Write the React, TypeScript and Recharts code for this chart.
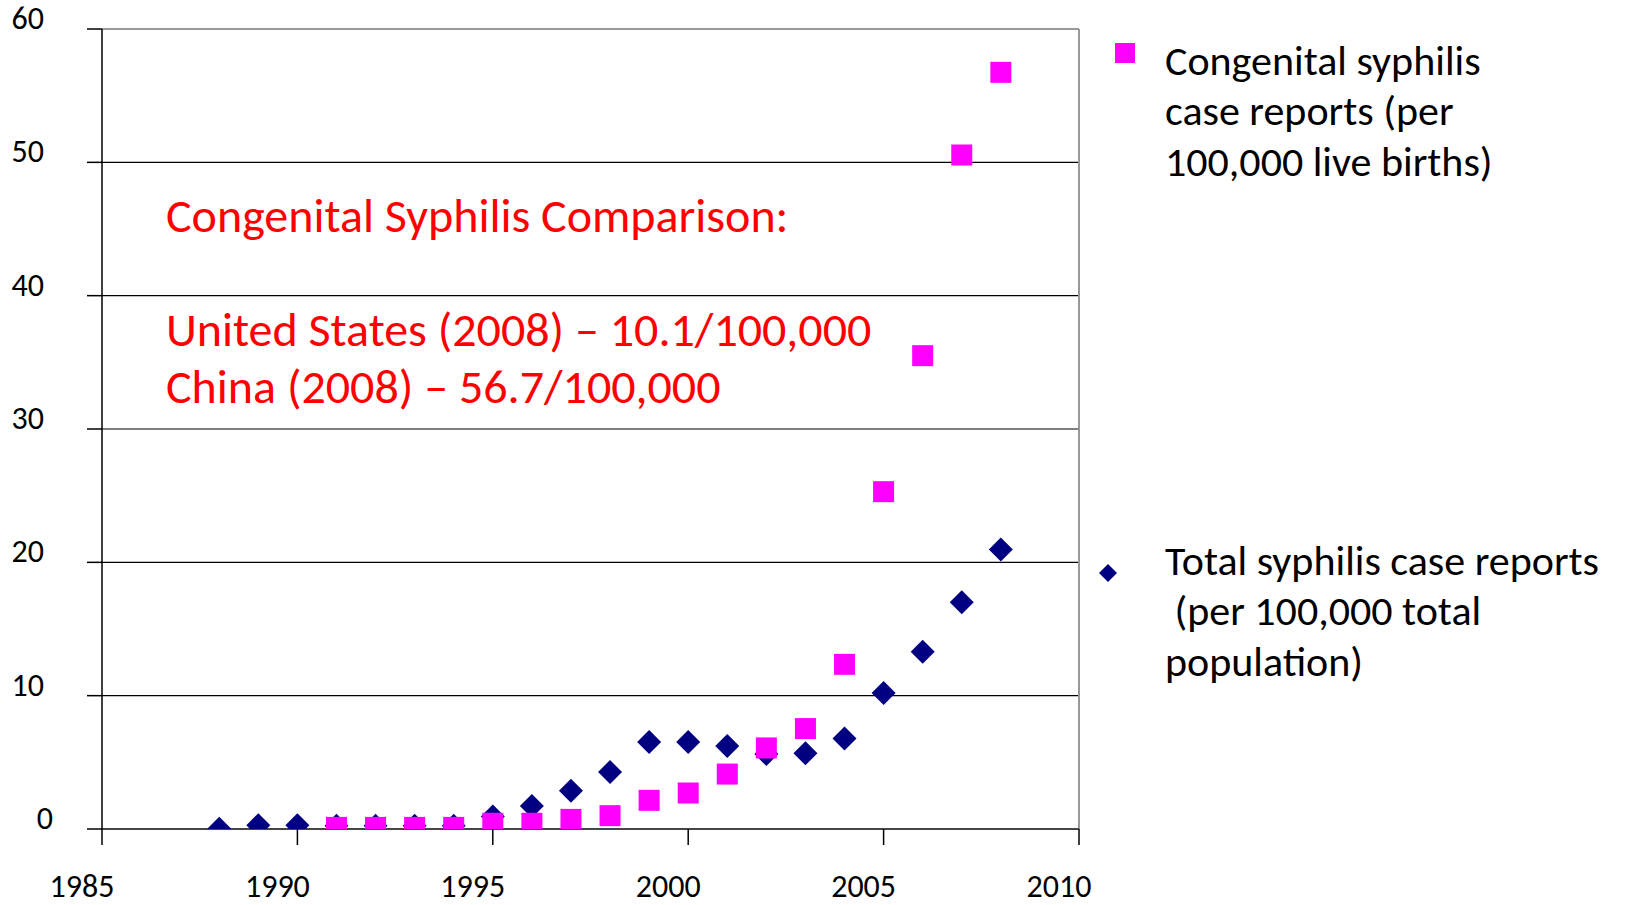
import React from 'react';
import { ScatterChart, Scatter, XAxis, YAxis, CartesianGrid, ReferenceLine, Customized } from 'recharts';

const FONT = 'Carlito, Calibri, Lato, "Open Sans", sans-serif';

// Total syphilis case reports (per 100,000 total population)
const totalYears = [1988, 1989, 1990, 1991, 1992, 1993, 1994, 1995, 1996, 1997, 1998, 1999, 2000, 2001, 2002, 2003, 2004, 2005, 2006, 2007, 2008];
const totalRates = [0.02, 0.28, 0.28, 0.25, 0.25, 0.25, 0.25, 0.93, 1.72, 2.87, 4.27, 6.52, 6.52, 6.23, 5.62, 5.68, 6.78, 10.2, 13.3, 17.0, 20.96];

// Congenital syphilis case reports (per 100,000 live births)
const congenitalYears = [1991, 1992, 1993, 1994, 1995, 1996, 1997, 1998, 1999, 2000, 2001, 2002, 2003, 2004, 2005, 2006, 2007, 2008];
const congenitalRates = [0.12, 0.12, 0.12, 0.12, 0.43, 0.43, 0.72, 1.0, 2.15, 2.7, 4.12, 6.08, 7.53, 12.35, 25.3, 35.5, 50.55, 56.75];

const xTicks = [1985, 1990, 1995, 2000, 2005, 2010];
const yTicks = [0, 10, 20, 30, 40, 50, 60];

const annotationLines = [
  'Congenital Syphilis Comparison:',
  '',
  'United States (2008) \u2013 10.1/100,000',
  'China (2008) \u2013 56.7/100,000',
];
const legendCongenital = ['Congenital syphilis', 'case reports (per', '100,000 live births)'];
const legendTotal = ['Total syphilis case reports', '\u00a0(per 100,000 total', 'population)'];

const NAVY = '#000080';
const PINK = '#FF00FF';

const totalData = totalYears.map((year, i) => ({ year, rate: totalRates[i] }));
const congenitalData = congenitalYears.map((year, i) => ({ year, rate: congenitalRates[i] }));

const Diamond = (props: any) => {
  const { cx, cy } = props;
  const r = 12;
  return <polygon points={`${cx},${cy - r} ${cx + r},${cy} ${cx},${cy + r} ${cx - r},${cy}`} fill={NAVY} />;
};

const Square = (props: any) => {
  const { cx, cy } = props;
  const s = 21;
  return <rect x={cx - s / 2} y={cy - s / 2} width={s} height={s} fill={PINK} />;
};

const YTick = (props: any) => {
  const { x, y, payload } = props;
  return (
    <text x={x} y={y} dx={payload.value === 0 ? 9 : 0} textAnchor="end" fontSize={32} fontFamily={FONT} fill="#000">
      {payload.value}
    </text>
  );
};

const XTick = (props: any) => {
  const { x, y, payload } = props;
  return (
    <text x={x - 20} y={y} textAnchor="middle" fontSize={32} fontFamily={FONT} fill="#000">
      {payload.value}
    </text>
  );
};

const Overlay = () => (
  <g fontFamily={FONT}>
    <g fill="#FF0000" fontSize={48}>
      {annotationLines.map((t, i) => (
        <text key={i} x={166} y={232 + i * 57}>{t}</text>
      ))}
    </g>
    <g fontSize={42} fill="#000">
      <rect x={1115} y={43} width={20} height={20} fill={PINK} />
      {legendCongenital.map((t, i) => (
        <text key={i} x={1165} y={75 + i * 50.4} style={{ whiteSpace: 'pre' }}>{t}</text>
      ))}
      <polygon points="1108,564 1117,573 1108,582 1099,573" fill={NAVY} />
      {legendTotal.map((t, i) => (
        <text key={i} x={1165} y={575 + i * 50.4} style={{ whiteSpace: 'pre' }}>{t}</text>
      ))}
    </g>
  </g>
);

export default function App() {
  return (
    <div style={{ position: 'absolute', left: 0, top: 0, width: 1629, height: 905, background: '#fff' }}>
      <ScatterChart width={1629} height={905} margin={{ top: 29, right: 550, bottom: 0, left: 0 }}>
        <CartesianGrid horizontal={true} vertical={false} stroke="#000" strokeWidth={1.2} />
        <XAxis
          type="number"
          dataKey="year"
          domain={[1985, 2010]}
          ticks={xTicks}
          height={76}
          tickSize={16}
          tickMargin={52}
          axisLine={{ stroke: '#333', strokeWidth: 1.5 }}
          tickLine={{ stroke: '#000', strokeWidth: 1.5 }}
          tick={<XTick />}
          interval={0}
          allowDataOverflow
        />
        <YAxis
          type="number"
          dataKey="rate"
          domain={[0, 60]}
          ticks={yTicks}
          width={102}
          tickSize={15}
          tickMargin={43}
          axisLine={{ stroke: '#000', strokeWidth: 1.5 }}
          tickLine={{ stroke: '#000', strokeWidth: 1.5 }}
          tick={<YTick />}
          interval={0}
          allowDataOverflow
        />
        <ReferenceLine y={60} stroke="#999" strokeWidth={2} />
        <ReferenceLine x={2010} stroke="#999" strokeWidth={2} />
        <Scatter name="Total syphilis case reports (per 100,000 total population)" data={totalData} shape={<Diamond />} isAnimationActive={false} />
        <Scatter name="Congenital syphilis case reports (per 100,000 live births)" data={congenitalData} shape={<Square />} isAnimationActive={false} />
        <Customized component={Overlay} />
      </ScatterChart>
    </div>
  );
}
